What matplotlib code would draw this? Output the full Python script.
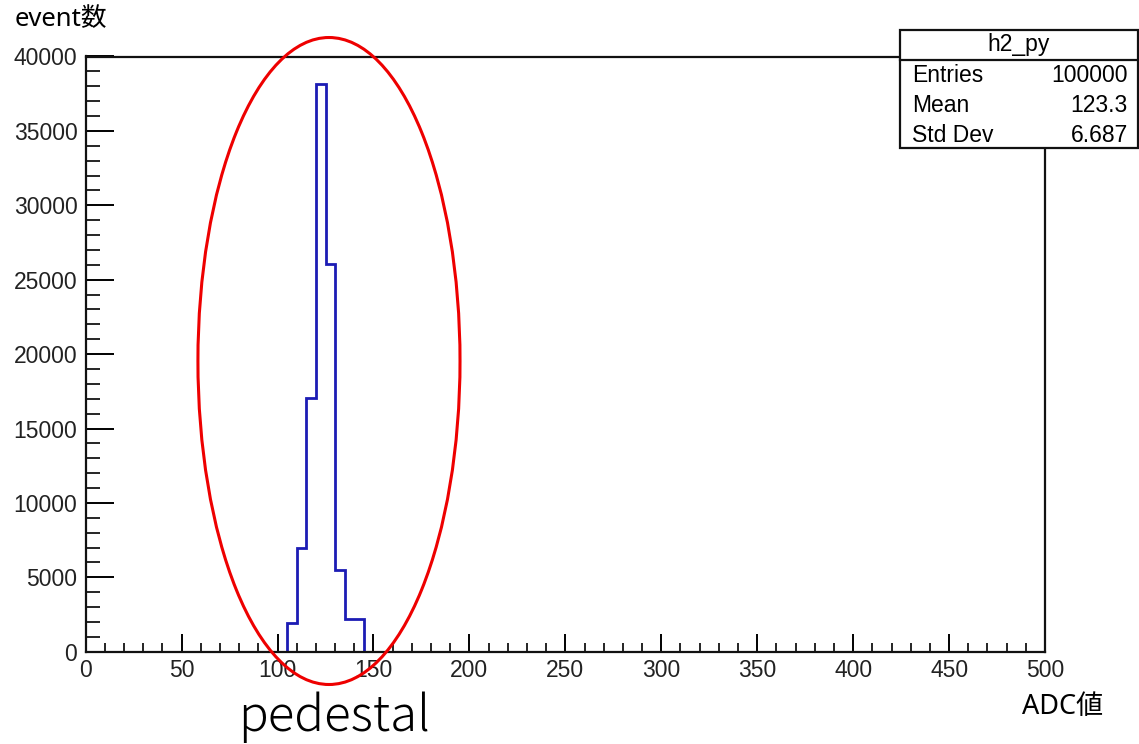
import matplotlib
matplotlib.use("Agg")
import matplotlib.pyplot as plt
from matplotlib.patches import Ellipse, Rectangle
from matplotlib.ticker import MultipleLocator

# ADC spectrum (pedestal region), 5-count bins
bin_edges = [105, 110, 115, 120, 125, 130, 135, 140, 145]
counts = [1900, 7000, 17050, 38150, 26050, 5500, 2175, 2175]

x_range = (0, 500)
y_range = (0, 40000)

hist_name = "h2_py"
stat_labels = ["Entries", "Mean", "Std Dev"]
stat_values = ["100000", "123.3", "6.687"]

W, H = 1139, 744
fig = plt.figure(figsize=(W / 100, H / 100), dpi=100)
ax = fig.add_axes([85.7 / W, 1 - 651.7 / H, (1045 - 85.7) / W, (651.7 - 56.5) / H])

ax.stairs(counts, bin_edges, baseline=0, fill=False, color="#1c1cb4", linewidth=2.0)

ax.set_xlim(*x_range)
ax.set_ylim(*y_range)
for s in ax.spines.values():
    s.set_linewidth(1.6)
    s.set_color("#111111")

ax.xaxis.set_major_locator(MultipleLocator(50))
ax.xaxis.set_minor_locator(MultipleLocator(10))
ax.yaxis.set_major_locator(MultipleLocator(5000))
ax.yaxis.set_minor_locator(MultipleLocator(1000))
ax.tick_params(axis="x", which="major", direction="in", length=13, width=1.4,
               labelsize=16.5, pad=5, top=False)
ax.tick_params(axis="x", which="minor", direction="in", length=6.5, width=1.2, top=False)
ax.tick_params(axis="y", which="major", direction="in", length=20, width=1.4,
               labelsize=16.5, pad=6, right=False)
ax.tick_params(axis="y", which="minor", direction="in", length=10, width=1.2, right=False)
for lab in ax.get_xticklabels() + ax.get_yticklabels():
    lab.set_fontfamily("Liberation Sans")
    lab.set_color("#222222")

jp = ["Noto Sans", "Noto Sans CJK JP"]
fig.text(15 / W, 1 - 20 / H, "event数", fontsize=18.5, family=jp, va="center", ha="left")
fig.text(1022 / W, 1 - 707 / H, "ADC値", fontsize=19.5, family=jp, va="center", ha="left")
fig.text(334 / W, 1 - 717 / H, "pedestal", fontsize=35.5, family=["Noto Sans CJK JP"],
         weight="light", va="center", ha="center")

# red ellipse around the pedestal peak
ell = Ellipse((126.8, 19536), 136.6, 43480, fill=False, edgecolor="#ee0000",
              linewidth=2.2, clip_on=False, zorder=5)
ax.add_patch(ell)

# statistics box
bx0, bx1, by0, by1 = 900, 1138, 30, 148
box = Rectangle((bx0 / W, 1 - by1 / H), (bx1 - bx0) / W, (by1 - by0) / H,
                transform=fig.transFigure, facecolor="white", edgecolor="#111111",
                linewidth=1.6, zorder=10)
fig.add_artist(box)
fig.add_artist(plt.Line2D([bx0 / W, bx1 / W], [1 - 60 / H, 1 - 60 / H],
                          transform=fig.transFigure, color="#111111", linewidth=1.6, zorder=11))
fig.text((bx0 + bx1) / 2 / W, 1 - 45 / H, hist_name, fontsize=16.5, family="Liberation Sans",
         ha="center", va="center", zorder=12)
rows_y = [75, 105, 135]
for lab, val, yy in zip(stat_labels, stat_values, rows_y):
    fig.text(912 / W, 1 - yy / H, lab, fontsize=16.5, family="Liberation Sans",
             ha="left", va="center", zorder=12)
    fig.text(1128 / W, 1 - yy / H, val, fontsize=16.5, family="Liberation Sans",
             ha="right", va="center", zorder=12)

fig.savefig("out.png", dpi=100, facecolor="white")
